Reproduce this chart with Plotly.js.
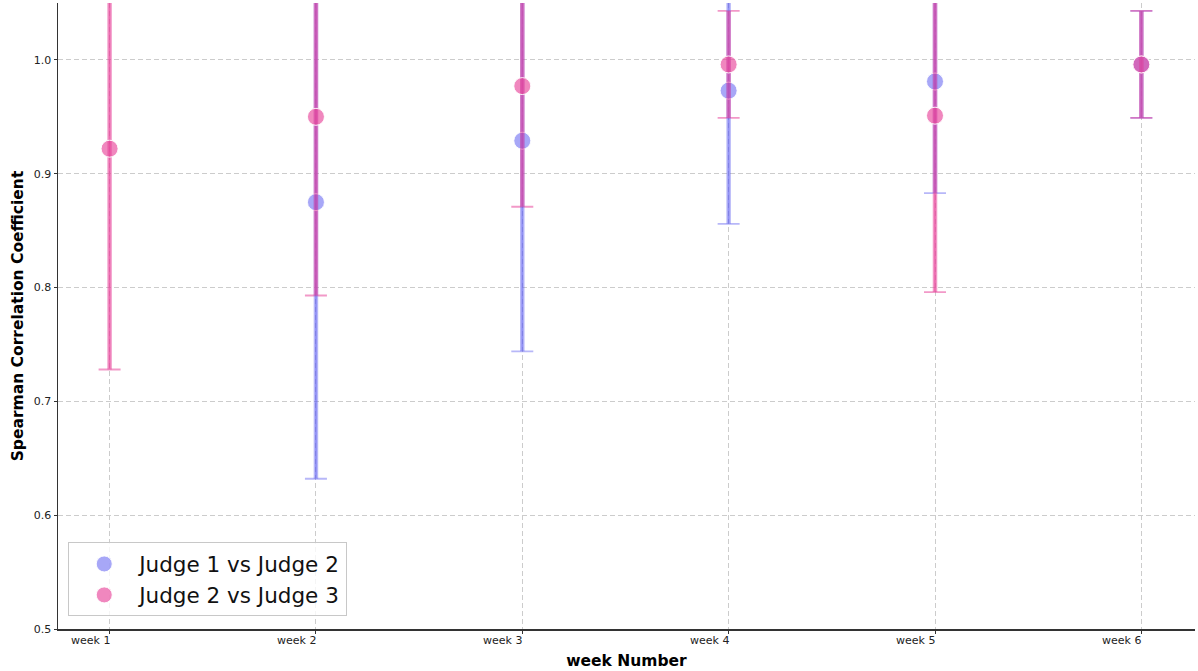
<!DOCTYPE html>
<html>
<head>
<meta charset="utf-8">
<script src="https://cdn.plot.ly/plotly-3.0.1.min.js"></script>
<style>html,body{margin:0;padding:0;background:#fff;}#chart{width:1198px;height:671px;}</style>
</head>
<body>
<div id="chart"></div>
<script>
const weeks = ["week 1", "week 2", "week 3", "week 4", "week 5", "week 6"];
const judge12 = [null, 0.875, 0.929, 0.973, 0.981, 0.996];
const judge12Err = [null, 0.243, 0.185, 0.117, 0.098, 0.047];
const judge23 = [0.922, 0.950, 0.977, 0.996, 0.951, 0.996];
const judge23Err = [0.194, 0.157, 0.106, 0.047, 0.155, 0.047];
const yTicks = [0.5, 0.6, 0.7, 0.8, 0.9, 1.0];

const xIdx = weeks.map((w, i) => i);
const blueMarker = 'rgba(95,95,240,0.55)';
const pinkMarker = 'rgba(232,70,155,0.65)';
const blueBar = 'rgba(95,95,240,0.45)';
const pinkBar = 'rgba(232,70,155,0.55)';

function capTrace(y, err, color) {
  return {
    type: 'scatter', mode: 'markers', showlegend: false, hoverinfo: 'skip',
    x: xIdx, y: y,
    error_y: {type: 'data', array: err, visible: true, color: color, thickness: 1.8, width: 11},
    marker: {size: 1, opacity: 0, color: color}
  };
}
function mainTrace(name, y, err, color, barColor) {
  return {
    type: 'scatter', mode: 'markers', name: name,
    x: xIdx, y: y,
    error_y: {type: 'data', array: err, visible: true, color: barColor, thickness: 4.5, width: 0},
    marker: {size: 17, color: color, line: {color: 'rgba(255,255,255,0.9)', width: 1}},
    hoverinfo: 'x+y'
  };
}

const data = [
  capTrace(judge12, judge12Err, blueBar),
  capTrace(judge23, judge23Err, pinkBar),
  mainTrace('Judge 1 vs Judge 2', judge12, judge12Err, blueMarker, blueBar),
  mainTrace('Judge 2 vs Judge 3', judge23, judge23Err, pinkMarker, pinkBar)
];

const tickAnnotations = weeks.map((w, i) => ({
  x: i, y: 0, xref: 'x', yref: 'paper', text: w, showarrow: false,
  xanchor: 'right', yanchor: 'top', yshift: -3, xshift: 2,
  font: {size: 11, family: 'DejaVu Sans', color: '#222'}
}));

const layout = {
  width: 1198, height: 671,
  margin: {l: 58, r: 3, t: 3, b: 42},
  paper_bgcolor: '#fff', plot_bgcolor: '#fff',
  font: {family: 'DejaVu Sans', color: '#222'},
  showlegend: true,
  annotations: tickAnnotations,
  legend: {
    x: 0.009, y: 0.02, xanchor: 'left', yanchor: 'bottom',
    bgcolor: 'rgba(255,255,255,0.8)', bordercolor: '#c8c8c8', borderwidth: 1,
    font: {size: 21.5, family: 'DejaVu Sans', color: '#111'},
    itemsizing: 'trace', itemwidth: 60, tracegroupgap: 0
  },
  xaxis: {
    range: [-0.25, 5.26],
    tickmode: 'array', tickvals: xIdx, ticktext: weeks.map(() => ''),
    showticklabels: true,
    showgrid: true, gridcolor: '#cccccc', griddash: '5px,3px', gridwidth: 1,
    zeroline: false,
    showline: true, linecolor: '#333', linewidth: 1.5,
    ticks: 'outside', ticklen: 3, tickcolor: '#333',
    title: {text: '<b>week Number</b>', font: {size: 15.5, family: 'DejaVu Sans', color: '#000'}, standoff: 20}
  },
  yaxis: {
    range: [0.5, 1.05],
    tickmode: 'array', tickvals: yTicks, ticktext: yTicks.map(v => v.toFixed(1)),
    tickfont: {size: 11, family: 'DejaVu Sans'},
    showgrid: true, gridcolor: '#cccccc', griddash: '5px,3px', gridwidth: 1,
    zeroline: false,
    showline: true, linecolor: '#333', linewidth: 1.5,
    ticks: 'outside', ticklen: 3, tickcolor: '#333',
    title: {text: '<b>Spearman Correlation Coefficient</b>', font: {size: 15.5, family: 'DejaVu Sans', color: '#000'}, standoff: 6}
  }
};

Plotly.newPlot('chart', data, layout, {displayModeBar: false, staticPlot: true});
</script>
</body>
</html>
